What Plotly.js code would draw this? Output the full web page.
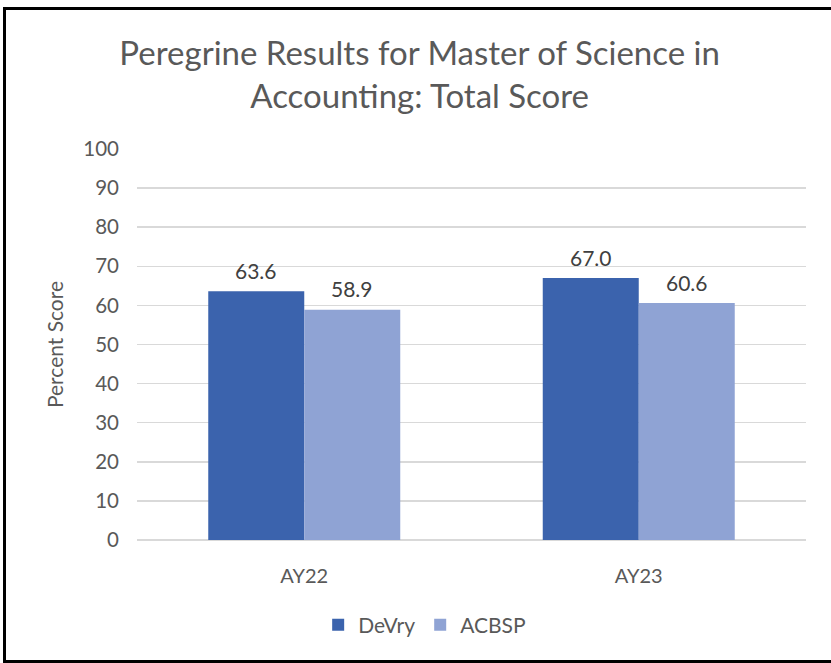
<!DOCTYPE html>
<html><head><meta charset="utf-8">
<script src="https://cdn.plot.ly/plotly-3.0.1.min.js"></script>
<style>
html,body{margin:0;padding:0;background:#fff;}
#wrap{position:relative;width:831px;height:663px;}
#chart{width:831px;height:663px;}
#frame{position:absolute;left:3px;top:7px;width:840px;height:650px;border-left:3px solid #000;border-top:3px solid #000;border-bottom:3px solid #000;pointer-events:none;}
</style></head>
<body>
<div id="wrap"><div id="chart"></div><div id="frame"></div></div>
<script>
const categories = ["AY22", "AY23"];
const devry = [63.6, 67.0];
const acbsp = [58.9, 60.6];
const seriesNames = ["DeVry", "ACBSP"];

const font = "Lato, 'Open Sans', sans-serif";
const mk = (name, y, color) => ({
  type: "bar", name: name, x: categories, y: y,
  marker: {color: color}
});
const data = [mk(seriesNames[0], devry, "#3b63ad"), mk(seriesNames[1], acbsp, "#8fa3d4")];
const annotations = [];
[[devry, -48], [acbsp, 48]].forEach(([vals, dx]) => {
  vals.forEach((v, i) => annotations.push({
    x: categories[i], y: v, xref: "x", yref: "y", text: v.toFixed(1), showarrow: false,
    xshift: dx, yshift: 21, font: {family: font, size: 21, color: "#404040"}
  }));
});
const layout = {
  width: 831, height: 663,
  margin: {l: 137, r: 25, t: 149, b: 123},
  paper_bgcolor: "#fff", plot_bgcolor: "#fff",
  font: {family: font, color: "#595959"},
  title: {text: "Peregrine Results for Master of Science in<br>Accounting: Total Score",
    font: {family: font, size: 33, color: "#595959"}, x: 0.505, xanchor: "center", y: 0.902, yanchor: "middle"},
  barmode: "group", bargap: 0.426, bargroupgap: 0,
  xaxis: {tickfont: {family: font, size: 20, color: "#595959"}, ticks: "", showline: false, ticklabelstandoff: 22},
  yaxis: {range: [0, 100], dtick: 10, gridcolor: "#d9d9d9", gridwidth: 1.5, zeroline: true, zerolinecolor: "#d9d9d9", zerolinewidth: 1.5,
    tickfont: {family: font, size: 20.5, color: "#595959"}, ticklabelstandoff: 17,
    title: {text: "Percent Score", font: {family: font, size: 21, color: "#595959"}, standoff: 13}},
  legend: {orientation: "h", x: 0.43, xanchor: "center", y: -0.165, yanchor: "top",
    font: {family: font, size: 21, color: "#595959"}},
  annotations: annotations,
  showlegend: true
};
Plotly.newPlot("chart", data, layout, {displayModeBar: false, staticPlot: true});
</script>
</body></html>
